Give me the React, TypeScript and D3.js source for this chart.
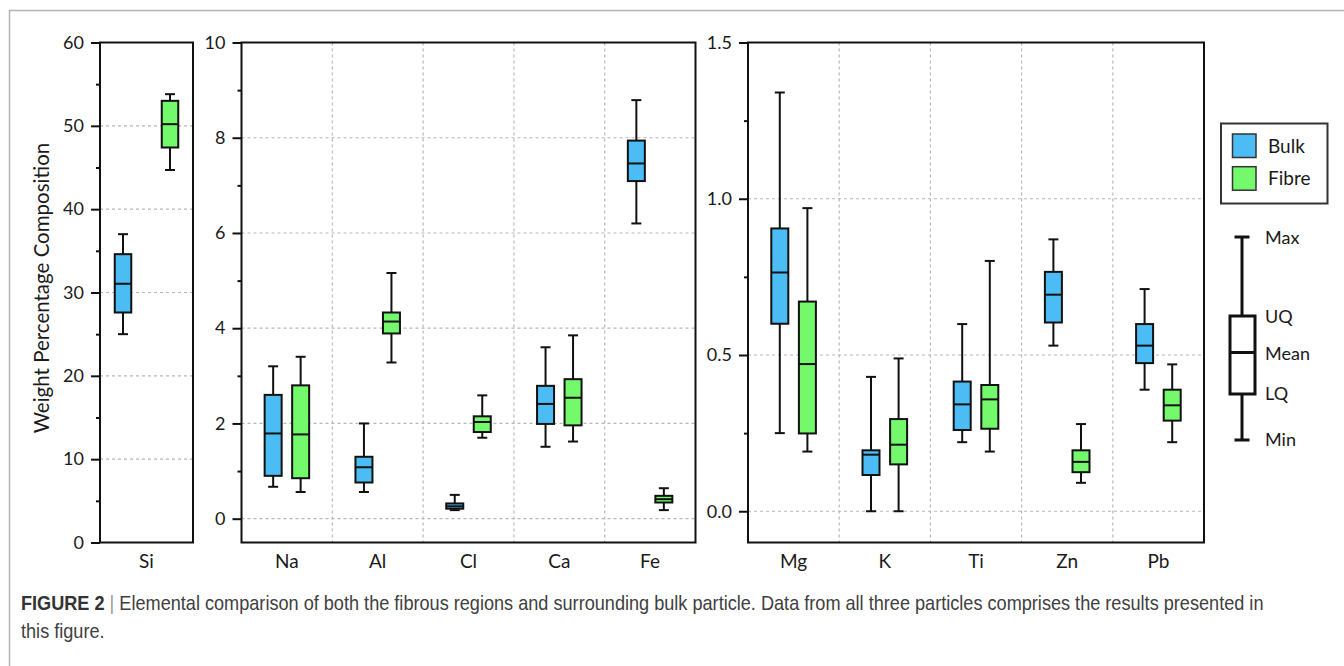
import React, { useEffect, useRef } from "react";
import * as d3 from "d3";

// elements, in panel order
const elements = ["Si", "Na", "Al", "Cl", "Ca", "Fe", "Mg", "K", "Ti", "Zn", "Pb"];
const seriesNames = ["Bulk", "Fibre"];
const seriesColors = ["#4cbcf5", "#74f86c"];

// box stats per element (same order as elements)
const bulkMin = [25.0, 0.67, 0.56, 0.18, 1.51, 6.2, 0.25, 0.0, 0.221, 0.53, 0.389];
const bulkLQ = [27.6, 0.9, 0.76, 0.21, 1.99, 7.09, 0.6, 0.116, 0.26, 0.604, 0.474];
const bulkMean = [31.05, 1.79, 1.08, 0.26, 2.41, 7.46, 0.764, 0.181, 0.342, 0.693, 0.53];
const bulkUQ = [34.6, 2.6, 1.3, 0.32, 2.79, 7.94, 0.905, 0.195, 0.415, 0.766, 0.599];
const bulkMax = [37.0, 3.2, 2.0, 0.5, 3.6, 8.79, 1.34, 0.43, 0.599, 0.87, 0.711];

const fibreMin = [44.7, 0.56, 3.28, 1.7, 1.62, 0.18, 0.191, 0.0, 0.191, 0.091, 0.221];
const fibreLQ = [47.4, 0.85, 3.89, 1.82, 1.96, 0.34, 0.249, 0.15, 0.264, 0.125, 0.29];
const fibreMean = [50.2, 1.77, 4.14, 2.03, 2.54, 0.41, 0.471, 0.213, 0.358, 0.158, 0.339];
const fibreUQ = [53.0, 2.8, 4.33, 2.15, 2.93, 0.48, 0.671, 0.295, 0.404, 0.195, 0.389];
const fibreMax = [53.8, 3.4, 5.16, 2.59, 3.85, 0.64, 0.97, 0.489, 0.801, 0.279, 0.47];

// panel categories and axis ticks
const siCats = ["Si"];
const majorCats = ["Na", "Al", "Cl", "Ca", "Fe"];
const traceCats = ["Mg", "K", "Ti", "Zn", "Pb"];
const siTicks = [0, 10, 20, 30, 40, 50, 60];
const siMinor = [5, 15, 25, 35, 45, 55];
const majorTicks = [0, 2, 4, 6, 8, 10];
const majorMinor = [1, 3, 5, 7, 9];
const traceTicks = [0, 0.5, 1.0, 1.5];
const traceMinor = [0.25, 0.75, 1.25];

const FONT = "Lato, 'Open Sans', sans-serif";
const CAPFONT = "'Liberation Sans Narrow', 'Liberation Sans', Arial, sans-serif";

const App = () => {
  const svgRef = useRef(null);

  useEffect(() => {
    const svg = d3.select(svgRef.current);
    svg.html("");

    // page frame
    svg.append("line").attr("x1", 9).attr("x2", 1344).attr("y1", 10.5).attr("y2", 10.5).attr("stroke", "#b4b4b4").attr("stroke-width", 1.5);
    svg.append("line").attr("x1", 9.5).attr("x2", 9.5).attr("y1", 10).attr("y2", 666).attr("stroke", "#b4b4b4").attr("stroke-width", 1.5);

    const top = 42.5,
      bottom = 542.5;

    const panels = [
      { cats: siCats, x0: 100, x1: 193, domain: [0, 60], ticks: siTicks, minor: siMinor, fmt: d3.format("d"), spread: 47, boxW: 16.5 },
      { cats: majorCats, x0: 241.5, x1: 695.5, domain: [-0.5, 10], ticks: majorTicks, minor: majorMinor, fmt: d3.format("d"), spread: 27.5, boxW: 17 },
      { cats: traceCats, x0: 748, x1: 1204, domain: [-0.1, 1.5], ticks: traceTicks, minor: traceMinor, fmt: d3.format(".1f"), spread: 27.6, boxW: 17 },
    ];

    panels.forEach((p) => {
      const g = svg.append("g");
      const x = d3.scaleBand().domain(p.cats).range([p.x0, p.x1]).padding(0);
      const y = d3.scaleLinear().domain(p.domain).range([bottom, top]);
      const inner = d3.scaleBand().domain(seriesNames).range([-p.spread, p.spread]);

      // grid
      g.selectAll(".hgrid")
        .data(p.ticks.filter((t) => t > p.domain[0] && t < p.domain[1]))
        .enter()
        .append("line")
        .attr("x1", p.x0)
        .attr("x2", p.x1)
        .attr("y1", (d) => y(d))
        .attr("y2", (d) => y(d))
        .attr("stroke", "#b8b8b8")
        .attr("stroke-width", 1.2)
        .attr("stroke-dasharray", "3,3");
      g.selectAll(".vgrid")
        .data(p.cats.slice(1))
        .enter()
        .append("line")
        .attr("x1", (d) => x(d))
        .attr("x2", (d) => x(d))
        .attr("y1", top)
        .attr("y2", bottom)
        .attr("stroke", "#b8b8b8")
        .attr("stroke-width", 1.2)
        .attr("stroke-dasharray", "3,3");

      // y axis
      const axis = g
        .append("g")
        .attr("transform", "translate(" + p.x0 + ",0)")
        .call(d3.axisLeft(y).tickValues(p.ticks).tickSize(9).tickPadding(7).tickFormat(p.fmt));
      axis.select(".domain").remove();
      axis.selectAll("line").attr("stroke", "#111").attr("stroke-width", 2);
      axis.selectAll("text").attr("fill", "#1a1a1a").style("font-family", FONT).style("font-size", "18px");
      const minorAxis = g
        .append("g")
        .attr("transform", "translate(" + p.x0 + ",0)")
        .call(d3.axisLeft(y).tickValues(p.minor).tickSize(4).tickFormat(() => ""));
      minorAxis.select(".domain").remove();
      minorAxis.selectAll("line").attr("stroke", "#111").attr("stroke-width", 2);

      // x labels
      g.selectAll(".xlab")
        .data(p.cats)
        .enter()
        .append("text")
        .attr("x", (d) => (x(d) as number) + x.bandwidth() / 2)
        .attr("y", 568)
        .attr("text-anchor", "middle")
        .attr("fill", "#1a1a1a")
        .style("font-family", FONT)
        .style("font-size", "19px")
        .text((d) => d);

      // boxes
      p.cats.forEach((cat) => {
        const i = elements.indexOf(cat);
        const stats = [
          { min: bulkMin[i], lq: bulkLQ[i], mean: bulkMean[i], uq: bulkUQ[i], max: bulkMax[i] },
          { min: fibreMin[i], lq: fibreLQ[i], mean: fibreMean[i], uq: fibreUQ[i], max: fibreMax[i] },
        ];
        stats.forEach((s, si) => {
          const cx = (x(cat) as number) + x.bandwidth() / 2 + (inner(seriesNames[si]) as number) + inner.bandwidth() / 2;
          const bg = g.append("g");
          bg.append("line").attr("x1", cx).attr("x2", cx).attr("y1", y(s.max)).attr("y2", y(s.min)).attr("stroke", "#111").attr("stroke-width", 2);
          [s.max, s.min].forEach((v) => {
            bg.append("line").attr("x1", cx - 5).attr("x2", cx + 5).attr("y1", y(v)).attr("y2", y(v)).attr("stroke", "#111").attr("stroke-width", 2);
          });
          bg.append("rect")
            .attr("x", cx - p.boxW / 2)
            .attr("width", p.boxW)
            .attr("y", y(s.uq))
            .attr("height", y(s.lq) - y(s.uq))
            .attr("fill", seriesColors[si])
            .attr("stroke", "#111")
            .attr("stroke-width", 2);
          bg.append("line")
            .attr("x1", cx - p.boxW / 2)
            .attr("x2", cx + p.boxW / 2)
            .attr("y1", y(s.mean))
            .attr("y2", y(s.mean))
            .attr("stroke", "#111")
            .attr("stroke-width", 2);
        });
      });

      // panel frame
      g.append("rect")
        .attr("x", p.x0)
        .attr("y", top)
        .attr("width", p.x1 - p.x0)
        .attr("height", bottom - top)
        .attr("fill", "none")
        .attr("stroke", "#111")
        .attr("stroke-width", 2);
    });

    // y title
    svg
      .append("text")
      .attr("transform", "translate(49,288) rotate(-90)")
      .attr("text-anchor", "middle")
      .attr("fill", "#1a1a1a")
      .style("font-family", FONT)
      .style("font-size", "20.5px")
      .text("Weight Percentage Composition");

    // legend
    const leg = svg.append("g");
    leg.append("rect").attr("x", 1221).attr("y", 123.5).attr("width", 106.5).attr("height", 80).attr("fill", "#fff").attr("stroke", "#333").attr("stroke-width", 2);
    seriesNames.forEach((name, i) => {
      leg.append("rect")
        .attr("x", 1232.5)
        .attr("y", 134 + i * 32.7)
        .attr("width", 23.5)
        .attr("height", 23.5)
        .attr("fill", seriesColors[i])
        .attr("stroke", "#333")
        .attr("stroke-width", 1.5);
      leg.append("text")
        .attr("x", 1268)
        .attr("y", 152.5 + i * 32.7)
        .attr("fill", "#1a1a1a")
        .style("font-family", FONT)
        .style("font-size", "19px")
        .text(name);
    });

    // box key
    const key = svg.append("g").attr("stroke", "#111").attr("stroke-width", 3);
    const kx = 1242;
    key.append("line").attr("x1", kx).attr("x2", kx).attr("y1", 237).attr("y2", 440);
    key.append("line").attr("x1", kx - 7.5).attr("x2", kx + 7.5).attr("y1", 237).attr("y2", 237);
    key.append("line").attr("x1", kx - 7.5).attr("x2", kx + 7.5).attr("y1", 440).attr("y2", 440);
    key.append("rect").attr("x", 1230).attr("y", 316).attr("width", 25).attr("height", 78).attr("fill", "#fff");
    key.append("line").attr("x1", 1230).attr("x2", 1255).attr("y1", 352.5).attr("y2", 352.5);
    const keyLabels = [
      ["Max", 244],
      ["UQ", 323],
      ["Mean", 360],
      ["LQ", 400],
      ["Min", 446],
    ];
    keyLabels.forEach(([t, yy]) => {
      svg.append("text")
        .attr("x", 1265)
        .attr("y", yy as number)
        .attr("fill", "#1a1a1a")
        .style("font-family", FONT)
        .style("font-size", "18px")
        .text(t as string);
    });

    // caption: one text per line, squeezed horizontally to the figure's width
    const capY = 610;
    const line1 = svg.append("g");
    const t1 = line1
      .append("text")
      .style("font-family", CAPFONT)
      .style("font-size", "20px")
      .attr("fill", "#404040");
    t1.append("tspan").style("font-weight", "bold").attr("fill", "#333").text("FIGURE 2");
    t1.append("tspan").attr("fill", "#9a9a9a").text(" | ");
    t1.append("tspan").text(
      "Elemental comparison of both the fibrous regions and surrounding bulk particle. Data from all three particles comprises the results presented in"
    );
    const w1 = (t1.node() as SVGTextElement).getComputedTextLength() || 1243;
    const sx = Math.min(1, 1243 / w1);
    line1.attr("transform", "translate(21," + capY + ") scale(" + sx + ",1)");

    const line2 = svg.append("g").attr("transform", "translate(21," + (capY + 28) + ") scale(" + sx + ",1)");
    line2
      .append("text")
      .style("font-family", CAPFONT)
      .style("font-size", "20px")
      .attr("fill", "#404040")
      .text("this figure.");
  }, []);

  return (
    <svg
      ref={svgRef}
      width={1344}
      height={666}
      style={{ position: "absolute", left: 0, top: 0, display: "block", background: "#fff" }}
    ></svg>
  );
};

export default App;
